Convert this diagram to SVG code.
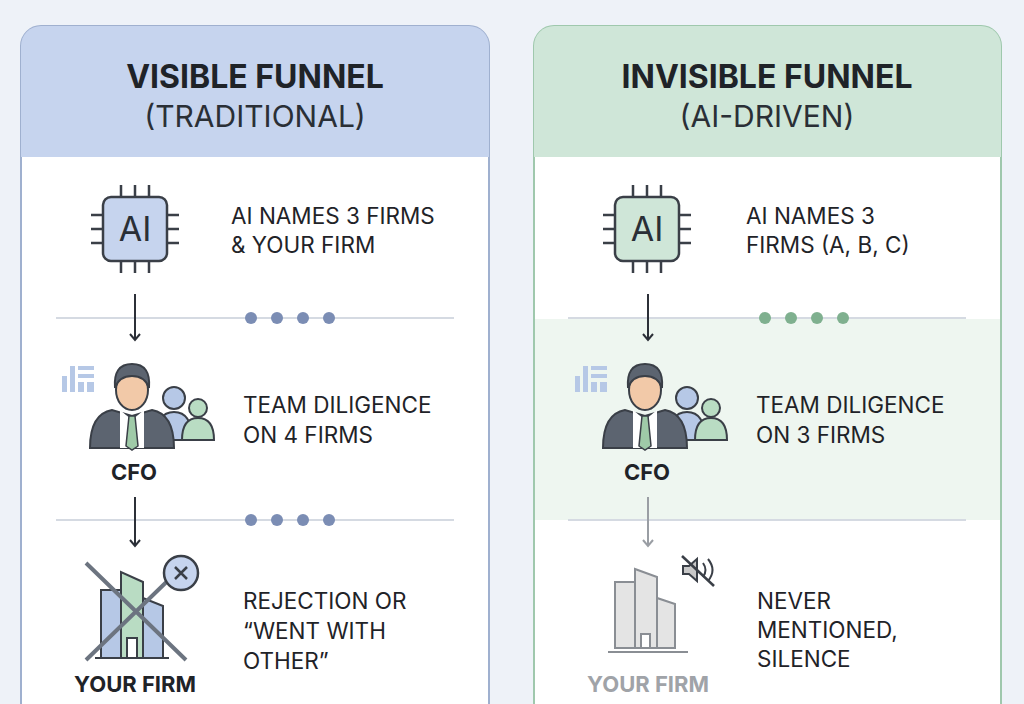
<svg xmlns="http://www.w3.org/2000/svg" width="1024" height="704" viewBox="0 0 1024 704">
<defs>
<style>
.t{font-family:"Inter","Liberation Sans",sans-serif;fill:#1f2328}
.h{font-size:32px;font-weight:700;text-anchor:middle}
.s{font-size:30px;text-anchor:middle;fill:#2a2f36}
.b{font-size:22.5px}
.lbl{font-size:22px;font-weight:700;text-anchor:middle}
.div{stroke:#d5dae2;stroke-width:2}
</style>
<marker id="ah" viewBox="0 0 12 12" refX="10" refY="6" markerWidth="12" markerHeight="12" markerUnits="userSpaceOnUse" orient="auto"><path d="M4 1 L10 6 L4 11" fill="none" stroke="#2c3038" stroke-width="2"/></marker>
<marker id="ahg" viewBox="0 0 12 12" refX="10" refY="6" markerWidth="12" markerHeight="12" markerUnits="userSpaceOnUse" orient="auto"><path d="M4 1 L10 6 L4 11" fill="none" stroke="#9a9ea4" stroke-width="2"/></marker>
<g id="chip">
<rect x="-32" y="-32" width="64" height="64" rx="8" stroke="#3a3f47" stroke-width="2.5"/>
<path d="M-14 -32v-12M0 -32v-12M14 -32v-12M-14 32v12M0 32v12M14 32v12M-32 -14h-12M-32 0h-12M-32 14h-12M32 -14h12M32 0h12M32 14h12" stroke="#3a3f47" stroke-width="2.5"/>
<text x="0" y="12" text-anchor="middle" style="font-family:'Inter','Liberation Sans',sans-serif;font-size:34px;fill:#2a2f36">AI</text>
</g>
<g id="person">
<circle cx="42" cy="-12" r="11" fill="#b6c8e6" stroke="#3a3f47" stroke-width="2"/>
<path d="M24 30 q0 -28 18 -28 q18 0 18 28z" fill="#b6c8e6" stroke="#3a3f47" stroke-width="2"/>
<circle cx="66" cy="-2" r="9" fill="#b9dcc3" stroke="#3a3f47" stroke-width="2"/>
<path d="M50 30 q0 -22 16 -22 q16 0 16 22z" fill="#b9dcc3" stroke="#3a3f47" stroke-width="2"/>
<path d="M-42 38 q0 -34 22 -38 l20 6 l20 -6 q22 4 22 38z" fill="#5c6470" stroke="#3a3f47" stroke-width="2"/>
<path d="M-12 0 l12 10 l12 -10 l0 38 h-24z" fill="#fff"/>
<path d="M-3 6 h6 l3 30 l-6 4 l-6 -4z" fill="#9fcaa8" stroke="#3a3f47" stroke-width="1.5"/>
<ellipse cx="0" cy="-20" rx="16" ry="20" fill="#f2c9a8" stroke="#3a3f47" stroke-width="2"/>
<path d="M-17 -22 q-2 -24 17 -24 q19 0 17 24 q-4 -12 -17 -12 q-13 0 -17 12z" fill="#5c6470" stroke="#3a3f47" stroke-width="2"/>
<g fill="#b6c8e6"><rect x="-70" y="-34" width="5" height="16"/><rect x="-62" y="-44" width="5" height="26"/><rect x="-54" y="-44" width="16" height="4"/><rect x="-54" y="-36" width="16" height="4"/><rect x="-54" y="-28" width="6" height="10"/><rect x="-45" y="-28" width="7" height="10"/></g>
</g>
</defs>
<rect width="1024" height="704" fill="#eef2f8"/>
<g id="left-panel">
<rect x="21" y="26" width="468" height="700" rx="20" fill="#fff" stroke="#9fb0cf" stroke-width="2"/>
<path d="M21 157 V46 a20 20 0 0 1 20 -20 H469 a20 20 0 0 1 20 20 V157z" fill="#c6d4ee"/>
<text class="t h" x="255" y="88">VISIBLE FUNNEL</text>
<text class="t s" x="255" y="127">(TRADITIONAL)</text>
</g>
<g id="right-panel">
<rect x="534" y="26" width="467" height="700" rx="20" fill="#fff" stroke="#9fc8ad" stroke-width="2"/>
<path d="M534 157 V46 a20 20 0 0 1 20 -20 H981 a20 20 0 0 1 20 20 V157z" fill="#cfe6d8"/>
<rect x="535" y="319" width="465" height="201" fill="#eef6f0"/>
<text class="t h" x="767" y="88">INVISIBLE FUNNEL</text>
<text class="t s" x="767" y="127">(AI-DRIVEN)</text>
</g>
<g id="dividers">
<line class="div" x1="56" y1="318" x2="454" y2="318"/><line class="div" x1="56" y1="520" x2="454" y2="520"/>
<line class="div" x1="568" y1="318" x2="966" y2="318"/><line class="div" x1="568" y1="520" x2="966" y2="520"/>
<g fill="#7b8db4"><circle cx="251" cy="318" r="6"/><circle cx="277" cy="318" r="6"/><circle cx="303" cy="318" r="6"/><circle cx="329" cy="318" r="6"/>
<circle cx="251" cy="520" r="6"/><circle cx="277" cy="520" r="6"/><circle cx="303" cy="520" r="6"/><circle cx="329" cy="520" r="6"/></g>
<g fill="#7fb08f"><circle cx="765" cy="318" r="6"/><circle cx="791" cy="318" r="6"/><circle cx="817" cy="318" r="6"/><circle cx="843" cy="318" r="6"/></g>
</g>
<g id="connectors">
<line x1="135" y1="294" x2="135" y2="340" stroke="#2c3038" stroke-width="2" marker-end="url(#ah)"/>
<line x1="135" y1="497" x2="135" y2="546" stroke="#2c3038" stroke-width="2" marker-end="url(#ah)"/>
<line x1="648" y1="294" x2="648" y2="340" stroke="#2c3038" stroke-width="2" marker-end="url(#ah)"/>
<line x1="648" y1="497" x2="648" y2="546" stroke="#9a9ea4" stroke-width="2" marker-end="url(#ahg)"/>
</g>
<g id="l-ai"><use href="#chip" x="135" y="229" fill="#c6d4ee"/><text class="t b" x="231" y="224">AI NAMES 3 FIRMS</text><text class="t b" x="231" y="253">&amp; YOUR FIRM</text></g>
<g id="r-ai"><use href="#chip" x="647" y="229" fill="#cfe6d8"/><text class="t b" x="746" y="224">AI NAMES 3</text><text class="t b" x="746" y="253">FIRMS (A, B, C)</text></g>
<g id="l-cfo"><use href="#person" x="132" y="410"/><text class="t lbl" x="134" y="480">CFO</text><text class="t b" x="243" y="413">TEAM DILIGENCE</text><text class="t b" x="243" y="443">ON 4 FIRMS</text></g>
<g id="r-cfo"><use href="#person" x="645" y="410"/><text class="t lbl" x="647" y="480">CFO</text><text class="t b" x="756" y="413">TEAM DILIGENCE</text><text class="t b" x="756" y="443">ON 3 FIRMS</text></g>
<g id="l-firm">
<rect x="101" y="590" width="20" height="68" fill="#b6c8e6" stroke="#3a3f47" stroke-width="2"/>
<path d="M121 658 V572 l22 10 V658z" fill="#b9dcc3" stroke="#3a3f47" stroke-width="2"/>
<path d="M143 658 V598 l20 8 V658z" fill="#b6c8e6" stroke="#3a3f47" stroke-width="2"/>
<rect x="127" y="638" width="10" height="20" fill="#fff" stroke="#3a3f47" stroke-width="2"/>
<path d="M95 658h74" stroke="#3a3f47" stroke-width="2"/>
<path d="M86 563 L186 660 M186 563 L86 660" stroke="#6c7480" stroke-width="4"/>
<circle cx="181" cy="573" r="17" fill="#c6d4ee" stroke="#3a3f47" stroke-width="2.5"/>
<path d="M175 567 l12 12 M187 567 l-12 12" stroke="#3a3f47" stroke-width="2.5"/>
<text class="t lbl" x="135" y="692">YOUR FIRM</text>
<text class="t b" x="243" y="609">REJECTION OR</text><text class="t b" x="243" y="639">“WENT WITH</text><text class="t b" x="243" y="669">OTHER”</text>
</g>
<g id="r-firm">
<rect x="615" y="582" width="20" height="66" fill="#e4e4e4" stroke="#8a8e94" stroke-width="2"/>
<path d="M635 648 V569 l22 8 V648z" fill="#e4e4e4" stroke="#8a8e94" stroke-width="2"/>
<path d="M657 648 V598 l18 6 V648z" fill="#e4e4e4" stroke="#8a8e94" stroke-width="2"/>
<rect x="641" y="634" width="9" height="14" fill="#fff" stroke="#8a8e94" stroke-width="2"/>
<path d="M608 652h80" stroke="#8a8e94" stroke-width="2"/>
<path d="M683 566 h6 l8 -7 v22 l-8 -7 h-6z" fill="#c8c8c8" stroke="#3a3f47" stroke-width="2"/>
<path d="M703 563 q5 7 0 14 M708 559 q9 11 0 22" fill="none" stroke="#3a3f47" stroke-width="2"/>
<path d="M682 556 l32 30" stroke="#3a3f47" stroke-width="2.5"/>
<text class="t lbl" x="648" y="692" style="fill:#a0a3a8">YOUR FIRM</text>
<text class="t b" x="757" y="609">NEVER</text><text class="t b" x="757" y="638">MENTIONED,</text><text class="t b" x="757" y="667">SILENCE</text>
</g>
</svg>
